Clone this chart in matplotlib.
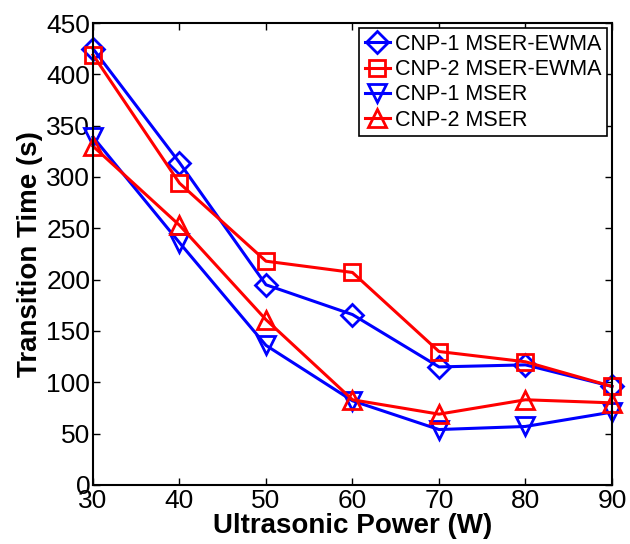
import matplotlib
matplotlib.use("Agg")
import matplotlib.pyplot as plt

plt.rcParams['font.family'] = ['Liberation Sans', 'DejaVu Sans']

# ── data ──────────────────────────────────────────────────
power = [30, 40, 50, 60, 70, 80, 90]
cnp1_ewma = [425, 314, 195, 166, 115, 117, 96]
cnp2_ewma = [419, 294, 218, 207, 130, 120, 96]
cnp1_mser = [339, 236, 136, 82, 54, 57, 71]
cnp2_mser = [330, 253, 161, 83, 69, 83, 80]

labels = ["CNP-1 MSER-EWMA", "CNP-2 MSER-EWMA", "CNP-1 MSER", "CNP-2 MSER"]
series = [cnp1_ewma, cnp2_ewma, cnp1_mser, cnp2_mser]
styles = [("#0000ff", "D", 11), ("#ff0000", "s", 12),
          ("#0000ff", "v", 13), ("#ff0000", "^", 13)]

fig = plt.figure(figsize=(6.3, 5.44), dpi=100)
ax = fig.add_axes([0.1476, 0.1085, 0.8238, 0.8492])

# markers on the first/last column stay whole over the axes edge
for vals, lab, (col, mk, ms) in zip(series, labels, styles):
    ax.plot(power, vals, color=col, lw=2.2, marker=mk, ms=ms,
            mfc="none", mec=col, mew=2, label=lab, clip_on=False)

ax.set_xlim(30, 90)
ax.set_ylim(0, 450)
ax.set_xticks(range(30, 91, 10))
ax.set_yticks(range(0, 451, 50))
ax.tick_params(direction="in", top=True, right=True, labelsize=19,
               length=5, width=1, pad=3)
ax.tick_params(axis="y", pad=2)
for s in ax.spines.values():
    s.set_linewidth(1.5)

ax.set_xlabel("Ultrasonic Power (W)", fontsize=20, fontweight="bold",
              labelpad=0)
ax.set_ylabel("Transition Time (s)", fontsize=20, fontweight="bold",
              labelpad=2)

leg = ax.legend(loc="upper right", fontsize=15.5, handlelength=1.2,
                handletextpad=0.2, borderaxespad=0.25, borderpad=0.25,
                labelspacing=0.2, fancybox=False, framealpha=1,
                edgecolor="black")
leg.get_frame().set_linewidth(1.2)
leg.set_zorder(5)

fig.savefig("out.png", dpi=100)
